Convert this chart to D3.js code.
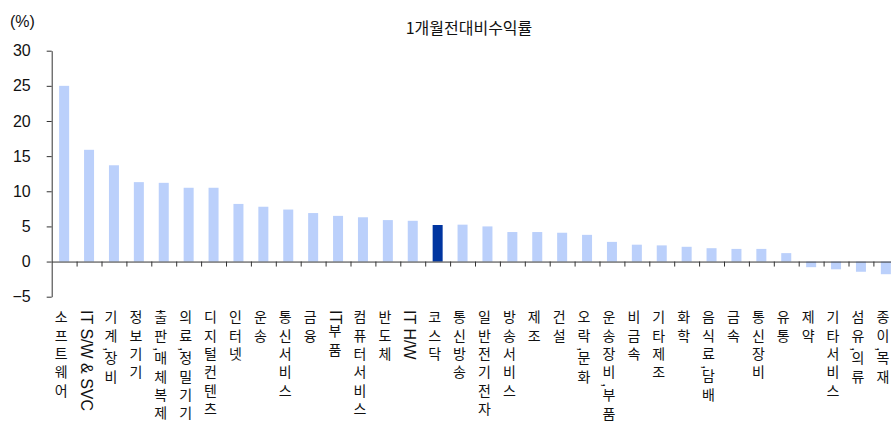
<!DOCTYPE html>
<html>
<head>
<meta charset="utf-8">
<script src="https://cdn.jsdelivr.net/npm/d3@7"></script>
<style>
  body { margin: 0; background: #fff; }
  svg { display: block; font-family: "Liberation Sans", Arial, "Noto Sans CJK KR", sans-serif; }
</style>
</head>
<body>
<svg id="chart" width="891" height="421"></svg>
<script>
// 업종별 1개월 전 대비 수익률 (%)
const sectors = ["소프트웨어", "IT S/W & SVC", "기계,장비", "정보기기", "출판,매체복제", "의료,정밀기기",
  "디지털컨텐츠", "인터넷", "운송", "통신서비스", "금융", "IT부품", "컴퓨터서비스", "반도체", "IT H/W",
  "코스닥", "통신방송", "일반전기전자", "방송서비스", "제조", "건설", "오락,문화", "운송장비,부품",
  "비금속", "기타제조", "화학", "음식료,담배", "금속", "통신장비", "유통", "제약", "기타서비스",
  "섬유,의류", "종이,목재"];
const returns = [25.0, 15.9, 13.7, 11.3, 11.2, 10.5, 10.5, 8.2, 7.8, 7.4, 6.9, 6.5, 6.3, 5.9, 5.8,
  5.2, 5.25, 5.0, 4.2, 4.2, 4.1, 3.8, 2.8, 2.4, 2.3, 2.1, 1.9, 1.8, 1.8, 1.2, -0.8, -1.1, -1.45, -1.8];
const highlight = "코스닥";
const yTicks = [-5, 0, 5, 10, 15, 20, 25, 30];
const title = "1개월전대비수익률";

const svg = d3.select("#chart");
const x0 = 51.7, band = 24.9;

const x = d3.scaleBand()
  .domain(sectors)
  .range([x0, x0 + band * sectors.length])
  .paddingInner(0)
  .paddingOuter(0);

const y = d3.scaleLinear()
  .domain([-5, 30])
  .range([296.7, 50.7]);

// bars
svg.append("g")
  .selectAll("rect")
  .data(sectors)
  .enter()
  .append("rect")
    .attr("x", d => x(d) + (band - 10) / 2)
    .attr("width", 10)
    .attr("y", (d, i) => y(Math.max(0, returns[i])))
    .attr("height", (d, i) => Math.abs(y(returns[i]) - y(0)))
    .attr("fill", d => d == highlight ? "#0035a0" : "#bbd0fb");

// y axis
const yAxis = svg.append("g")
  .attr("transform", "translate(" + x0 + ",0)")
  .call(d3.axisLeft(y).tickValues(yTicks).tickSize(5).tickSizeOuter(0)
    .tickFormat(d => d < 0 ? "\u2212" + Math.abs(d) : d));
yAxis.select(".domain").attr("stroke", "#333");
yAxis.selectAll(".tick line").attr("stroke", "#333");
yAxis.selectAll(".tick text")
  .attr("x", -21)
  .attr("font-size", 16)
  .attr("font-family", "Liberation Sans, Arial, sans-serif")
  .attr("fill", "#111");

// x axis along zero, ticks at category boundaries
const xLin = d3.scaleLinear().domain([0, sectors.length]).range(x.range());
const xAxis = svg.append("g")
  .attr("transform", "translate(0," + y(0) + ")")
  .call(d3.axisBottom(xLin).tickValues(d3.range(1, sectors.length)).tickSize(5).tickSizeOuter(0).tickFormat(""));
xAxis.select(".domain").attr("stroke", "#333");
xAxis.selectAll(".tick line").attr("stroke", "#333");

// category labels, vertical (한글은 세워서 간격, 영문은 눕혀서)
const labels = svg.append("g")
  .selectAll("text")
  .data(sectors)
  .enter()
  .append("text")
    .attr("x", d => x(d) + band / 2 - 3)
    .attr("y", 310)
    .style("writing-mode", "vertical-rl")
    .attr("fill", "#111");

labels.each(function(d) {
  const runs = d.match(/[\uAC00-\uD7A3]+|[^\uAC00-\uD7A3]+/g);
  const t = d3.select(this);
  runs.forEach(r => {
    const kor = /[\uAC00-\uD7A3]/.test(r);
    t.append("tspan")
      .attr("font-size", kor ? 14 : 16)
      .attr("font-family", kor ? "Noto Sans CJK KR, sans-serif" : "Liberation Sans, Arial, sans-serif")
      .style("letter-spacing", kor ? "4.3px" : "0px")
      .text(r);
  });
});

// unit + title
svg.append("text")
  .attr("x", 10).attr("y", 27)
  .attr("font-size", 16)
  .attr("fill", "#111")
  .text("(%)");

svg.append("text")
  .attr("x", 469).attr("y", 34)
  .attr("text-anchor", "middle")
  .attr("font-size", 16)
  .attr("font-family", "Noto Sans CJK KR, sans-serif")
  .attr("fill", "#111")
  .text(title);
</script>
</body>
</html>
